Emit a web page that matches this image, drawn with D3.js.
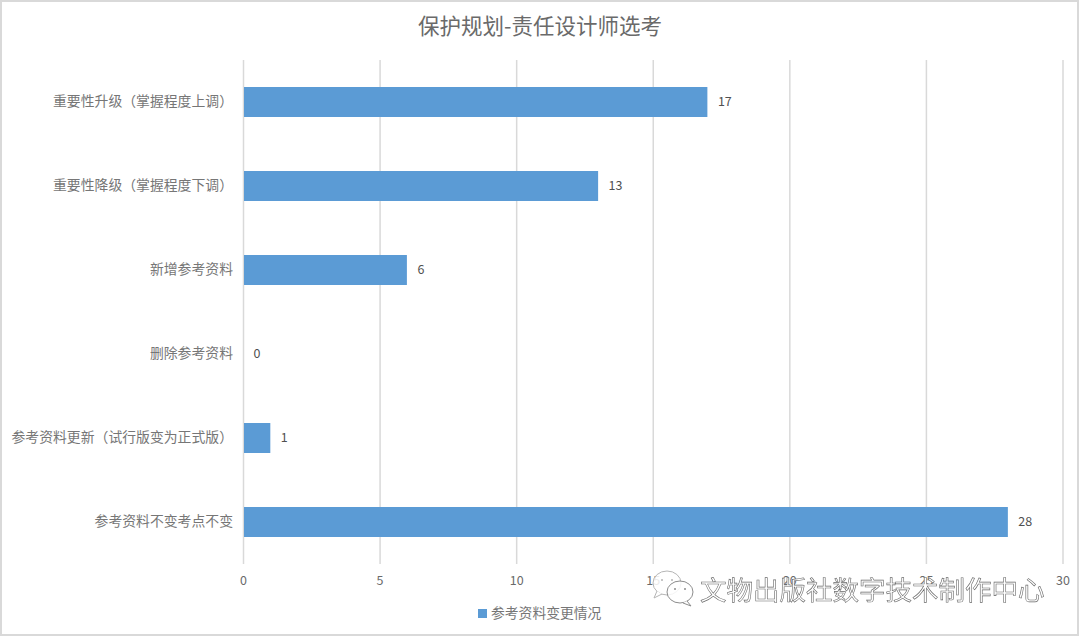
<!DOCTYPE html>
<html>
<head>
<meta charset="utf-8">
<script src="https://cdn.jsdelivr.net/npm/d3@7"></script>
<style>
html,body{margin:0;padding:0;background:#fff;}
svg{display:block;}
text{font-family:"Noto Sans CJK SC","Noto Sans",sans-serif;}
</style>
</head>
<body>
<svg id="svg" width="1080" height="637"></svg>
<script>
var titleText = '保护规划-责任设计师选考';
var seriesName = '参考资料变更情况';
var watermark = '文物出版社数字技术制作中心';
var categories = ['重要性升级（掌握程度上调）', '重要性降级（掌握程度下调）', '新增参考资料', '删除参考资料', '参考资料更新（试行版变为正式版）', '参考资料不变考点不变'];
var values = [17, 13, 6, 0, 1, 28];
var xTicks = [0, 5, 10, 15, 20, 25, 30];

var s = d3.select('#svg');
var left = 243, right = 1062.5, top_ = 60, bottom = 564;

var x = d3.scaleLinear().domain([0, 30]).range([left, right]);
var y = d3.scaleBand().domain(categories).range([top_, bottom]).paddingInner(0.643).paddingOuter(0.3215);

// outer frame
s.append('rect')
    .attr('x', 1).attr('y', 1).attr('width', 1077).attr('height', 634)
    .attr('fill', '#fff').attr('stroke', '#d9d9d9').attr('stroke-width', 2);

s.append('text')
    .attr('x', 540).attr('y', 34)
    .attr('text-anchor', 'middle')
    .attr('font-size', 21.5)
    .attr('fill', '#6a6a6a')
    .text(titleText);

// grid and x labels
var xAxis = d3.axisBottom(x).tickValues(xTicks).tickSize(-(bottom - top_)).tickPadding(12);
var gx = s.append('g').attr('transform', 'translate(0,' + bottom + ')').call(xAxis);
gx.select('.domain').remove();
gx.selectAll('line').attr('stroke', '#d9d9d9').attr('stroke-width', 1.5);
gx.selectAll('text').attr('font-size', 12.5).attr('fill', '#6a6a6a');

// bars
s.selectAll('.bar')
    .data(values)
    .enter()
    .append('rect')
    .attr('class', 'bar')
    .attr('x', x(0) + 1)
    .attr('y', function(d, i){ return y(categories[i]); })
    .attr('width', function(d){ return Math.max(0, x(d) - x(0) - 1); })
    .attr('height', y.bandwidth())
    .attr('fill', '#5b9bd5');

// value labels
s.selectAll('.val')
    .data(values)
    .enter()
    .append('text')
    .attr('class', 'val')
    .attr('x', function(d){ return x(d) + 10.5; })
    .attr('y', function(d, i){ return y(categories[i]) + y.bandwidth() / 2 + 4; })
    .attr('font-size', 12.5)
    .attr('fill', '#505050')
    .text(function(d){ return d; });

// category labels
var yAxis = d3.axisLeft(y).tickSize(0).tickPadding(10);
var gy = s.append('g').attr('transform', 'translate(' + left + ',0)').call(yAxis);
gy.select('.domain').remove();
gy.selectAll('text').attr('font-size', 13.85).attr('fill', '#767676');

// legend
s.append('rect').attr('x', 478).attr('y', 609).attr('width', 9).attr('height', 9).attr('fill', '#5b9bd5');
s.append('text')
    .attr('x', 491).attr('y', 618)
    .attr('font-size', 13.8)
    .attr('fill', '#767676')
    .text(seriesName);

// do-nothing filter, it makes the watermark text antialias in grey
s.append('defs').append('filter').attr('id', 'flat')
    .append('feOffset').attr('dx', 0).attr('dy', 0);

// watermark: two chat bubbles and outlined text
var wm = s.append('g').attr('filter', 'url(#flat)');
function bubble(cx, cy, rx, ry, tail, col){
    wm.append('ellipse').attr('cx', cx).attr('cy', cy).attr('rx', rx).attr('ry', ry)
        .attr('fill', '#fff').attr('fill-opacity', 0.85).attr('stroke', col).attr('stroke-width', 1);
    wm.append('path').attr('d', tail)
        .attr('fill', '#fff').attr('stroke', col).attr('stroke-width', 1);
    [-5, 5].forEach(function(dx){
        wm.append('circle').attr('cx', cx + dx).attr('cy', cy - 3).attr('r', 1).attr('fill', col);
    });
}
bubble(667, 583, 14, 12, 'M657,591 L654,598 L662,594', '#b5b5b5');
bubble(680, 592, 13, 11, 'M687,601 L691,606 L683,603', '#8c8c8c');
wm.append('text')
    .attr('x', 700).attr('y', 600)
    .attr('font-size', 26.5)
    .attr('fill', '#fff')
    .attr('stroke', '#6a6a6a')
    .attr('stroke-width', 0.6)
    .text(watermark);
</script>
</body>
</html>
